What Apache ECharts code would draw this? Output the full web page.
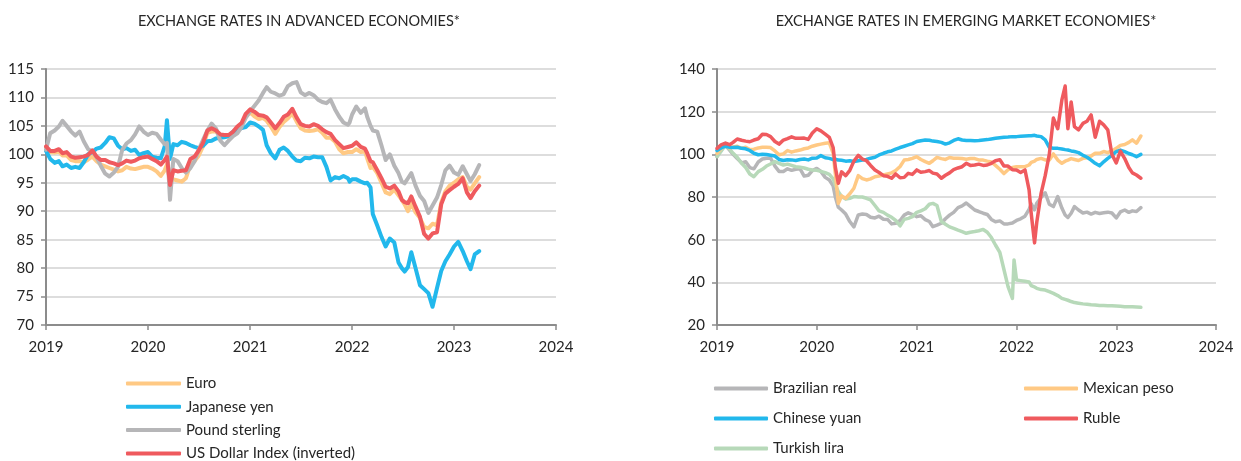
<!DOCTYPE html>
<html><head><meta charset="utf-8">
<script src="https://cdn.jsdelivr.net/npm/echarts@6/dist/echarts.min.js"></script>
<style>html,body{margin:0;padding:0;background:#fff}#c{width:1241px;height:461px}</style>
</head><body><div id="c"></div>
<script>
// Shared observation dates (semi-monthly, with a few extra event dates)
const dates = [
 '2019-01-01','2019-01-16','2019-02-01','2019-02-16','2019-03-01','2019-03-16','2019-04-01','2019-04-16','2019-05-01','2019-05-16','2019-06-01','2019-06-16','2019-07-01','2019-07-16','2019-08-01','2019-08-16','2019-09-01','2019-09-16','2019-10-01','2019-10-16','2019-11-01','2019-11-16','2019-12-01','2019-12-16',
 '2020-01-01','2020-01-16','2020-02-01','2020-02-16','2020-03-01','2020-03-09','2020-03-20','2020-04-01','2020-04-16','2020-05-01','2020-05-16','2020-06-01','2020-06-16','2020-07-01','2020-07-16','2020-08-01','2020-08-16','2020-09-01','2020-09-16','2020-10-01','2020-10-16','2020-11-01','2020-11-16','2020-12-01','2020-12-16',
 '2021-01-01','2021-01-16','2021-02-01','2021-02-16','2021-03-01','2021-03-16','2021-04-01','2021-04-16','2021-05-01','2021-05-16','2021-06-01','2021-06-16','2021-07-01','2021-07-16','2021-08-01','2021-08-16','2021-09-01','2021-09-16','2021-10-01','2021-10-16','2021-11-01','2021-11-16','2021-12-01','2021-12-17','2021-12-23',
 '2022-01-01','2022-01-16','2022-02-01','2022-02-16','2022-02-24','2022-03-08','2022-03-16','2022-04-01','2022-04-16','2022-05-01','2022-05-16','2022-06-01','2022-06-16','2022-06-28','2022-07-08','2022-07-20','2022-08-01','2022-08-16','2022-09-01','2022-09-16','2022-10-01','2022-10-16','2022-11-01','2022-11-16','2022-12-01','2022-12-16',
 '2023-01-01','2023-01-16','2023-02-01','2023-02-16','2023-03-01','2023-03-16','2023-04-01'
];

// ---- Advanced economies ----
const euro = [
 101.2,100.4,100.3,100.5,99.8,99.8,99.0,98.8,98.8,98.6,99.1,99.6,98.8,98.2,97.9,97.6,97.3,97.0,97.2,97.8,97.5,97.4,97.6,97.8,
 97.8,97.5,97.0,96.2,97.2,98.2,95.3,95.6,95.4,95.2,95.8,98.2,98.8,99.8,101.4,103.8,104.0,104.0,103.2,103.2,103.1,103.6,104.4,105.4,106.6,
 107.4,106.7,106.2,106.4,105.9,104.9,103.6,104.8,105.7,106.3,107.2,105.8,104.6,104.2,104.1,104.2,104.4,103.8,102.9,102.9,102.2,100.9,100.2,100.4,100.3,
 100.4,100.9,100.4,100.5,99.3,97.6,97.8,96.7,95.0,93.3,93.0,93.8,92.8,92.0,91.2,90.0,91.4,89.8,88.8,87.2,87.0,87.8,87.5,91.5,93.5,94.5,
 95.0,95.6,96.0,94.3,93.8,94.9,96.0
];
const yen = [
 100.6,99.2,98.5,98.8,97.9,98.2,97.6,97.8,97.6,98.6,100.0,100.4,101.0,101.2,102.0,103.0,102.8,101.5,100.9,101.1,100.6,100.8,99.9,100.2,
 100.4,99.6,99.4,99.3,101.4,106.0,99.2,101.8,101.6,102.2,102.0,101.6,101.3,101.1,101.5,102.3,102.4,102.8,102.9,103.0,103.2,104.0,104.3,104.6,104.8,
 105.6,105.4,104.9,104.3,101.6,100.2,99.3,100.8,101.2,100.6,99.6,98.9,98.8,99.4,99.3,99.6,99.5,99.5,97.8,95.4,96.0,95.8,96.2,95.8,95.2,
 95.6,95.6,95.2,94.9,95.0,94.2,89.5,87.5,85.5,83.8,85.2,84.5,81.0,80.0,79.4,80.2,82.8,80.0,77.0,76.3,75.6,73.2,76.5,79.5,81.2,82.4,
 83.8,84.6,83.0,81.2,79.8,82.4,83.0
];
const pound = [
 100.8,103.7,104.2,104.9,105.9,105.0,104.0,103.3,104.0,102.3,100.9,100.5,99.5,98.0,96.6,96.1,96.8,97.8,100.8,101.9,102.5,103.5,104.9,104.0,
 103.4,103.8,103.6,102.6,101.8,102.0,92.0,99.2,98.8,97.6,96.8,97.6,98.8,100.8,102.5,104.2,105.4,104.5,102.4,101.6,102.4,103.2,103.7,104.8,106.4,
 107.6,108.5,109.5,110.8,111.8,111.0,110.7,110.3,110.6,112.0,112.5,112.7,110.9,110.4,110.8,110.4,109.6,109.2,109.0,109.6,107.9,106.6,105.6,105.2,105.6,
 107.0,108.4,107.3,108.1,106.6,105.0,104.2,104.0,101.6,99.0,100.0,98.0,96.7,95.2,94.9,95.8,96.7,94.5,92.7,91.8,89.7,91.0,92.4,94.6,97.2,98.0,
 96.8,96.4,97.9,96.5,95.3,96.5,98.1
];
const usd = [
 101.4,100.6,100.6,100.9,100.2,100.4,99.6,99.4,99.5,99.6,99.9,100.7,99.6,99.0,99.0,98.6,98.4,98.1,98.4,98.9,98.7,98.9,99.3,99.5,
 99.6,99.2,98.8,98.2,99.0,99.6,94.6,97.2,97.0,97.1,97.2,99.2,99.6,100.7,102.0,104.2,104.6,104.2,103.5,103.4,103.4,104.0,104.9,105.5,107.1,
 107.9,107.5,106.9,106.8,106.5,105.6,104.6,105.5,106.6,107.0,108.0,106.5,105.3,105.0,104.9,105.3,105.0,104.4,103.9,103.6,102.5,101.8,101.1,101.3,101.2,
 101.5,102.1,101.3,101.0,100.2,98.8,98.6,97.2,95.8,94.3,94.0,94.5,93.5,92.0,91.6,91.4,92.6,90.8,89.0,86.0,85.2,86.1,86.3,91.2,93.1,93.7,
 94.3,94.8,95.8,93.3,92.3,93.5,94.5
];

// ---- Emerging market economies ----
const real = [
 99.0,102.0,104.2,102.0,100.0,98.0,96.0,96.5,93.8,93.2,96.4,97.8,98.2,98.2,94.5,92.0,92.0,93.2,92.5,93.0,93.2,89.8,90.2,92.4,
 93.4,92.0,89.2,88.0,85.2,80.0,75.2,73.9,72.0,68.5,66.0,71.6,72.0,71.8,70.5,70.2,71.0,69.6,69.5,67.4,67.7,69.0,71.5,72.6,71.8,
 70.8,71.2,69.4,68.5,66.1,66.8,67.7,69.8,71.5,72.8,75.0,75.8,77.2,75.6,73.9,73.2,72.4,71.8,69.5,68.4,68.8,67.4,67.4,67.8,68.4,
 69.0,69.8,71.0,74.2,76.8,74.0,77.0,79.8,82.0,76.6,75.5,80.2,74.8,71.6,70.4,72.4,75.5,73.9,72.5,72.9,72.0,72.8,72.3,72.6,72.9,72.5,
 70.2,73.0,73.9,72.8,73.5,73.2,75.0
];
const peso = [
 100.5,102.8,104.2,103.0,103.5,103.8,102.8,103.3,102.2,102.4,103.0,103.3,103.3,103.2,101.6,99.8,100.2,101.8,101.0,101.6,102.0,102.6,103.0,103.8,
 104.4,104.8,105.2,105.4,100.5,91.0,77.0,80.5,79.4,81.5,84.1,90.0,88.6,88.0,88.5,89.5,89.8,90.3,90.8,91.3,92.4,94.3,97.3,97.6,98.1,
 98.9,97.6,96.6,95.8,97.0,98.6,98.0,97.6,98.5,98.2,98.2,98.0,97.7,98.0,98.0,97.4,97.3,96.8,96.4,94.8,93.0,91.0,92.8,93.8,94.2,
 94.2,94.2,94.2,95.0,96.2,96.8,97.6,98.1,97.4,97.3,100.2,97.3,95.8,96.8,97.3,98.0,97.6,97.1,98.1,98.4,99.2,100.5,100.5,101.3,100.8,101.6,
 102.8,104.2,104.6,105.6,106.8,105.2,108.6
];
const yuan = [
 101.8,103.0,103.8,103.3,103.2,103.3,102.8,102.6,101.8,100.5,99.8,100.0,99.9,99.6,99.2,97.6,97.1,97.5,97.4,97.1,97.6,97.8,97.4,98.2,
 98.3,99.4,98.4,98.1,97.5,97.8,97.3,97.2,96.8,97.0,96.6,97.0,97.3,97.6,98.2,98.6,99.7,100.5,101.2,101.6,102.4,103.2,103.8,104.4,105.0,
 106.0,106.4,106.7,106.6,106.2,106.0,105.6,104.8,105.4,106.5,107.3,106.7,106.5,106.5,106.4,106.5,106.7,106.9,107.2,107.5,107.8,108.0,108.1,108.3,108.3,
 108.3,108.5,108.6,108.7,108.7,108.9,108.6,108.3,106.8,103.3,102.8,102.8,102.5,102.2,102.0,101.6,101.3,100.8,99.6,98.6,97.3,95.8,94.6,96.5,98.1,99.5,
 101.3,102.0,101.3,100.4,99.8,98.9,100.0
];
const ruble = [
 102.8,104.4,105.3,104.5,105.6,107.2,106.6,106.2,105.9,106.7,107.3,109.4,109.3,108.3,106.0,104.8,106.7,107.4,108.2,107.5,107.5,107.6,107.0,110.0,
 112.0,111.0,109.5,108.0,103.2,94.0,86.4,91.8,90.0,92.5,96.8,99.5,97.8,97.0,94.8,92.7,91.5,90.0,89.7,88.8,90.8,89.0,89.2,91.1,90.6,
 92.7,91.6,91.9,92.4,91.2,90.8,88.8,90.2,91.3,92.8,93.6,94.2,95.8,94.8,95.0,95.4,94.8,95.0,95.8,97.0,97.5,94.5,94.5,92.8,93.4,
 92.7,91.5,92.7,83.3,72.0,58.5,68.0,81.7,90.0,100.0,117.0,112.0,125.5,132.0,112.0,124.5,113.0,111.5,114.5,115.5,118.5,108.0,115.5,113.8,111.5,100.0,
 96.0,101.5,98.0,93.8,91.3,90.3,88.8
];
const lira = [
 98.9,101.5,104.4,102.5,100.5,98.6,95.8,93.8,90.8,89.5,91.9,93.0,94.5,95.5,96.6,95.8,95.0,95.4,94.8,94.2,94.0,93.6,93.0,92.7,
 92.5,92.0,91.4,90.6,88.5,85.6,82.5,80.2,79.0,79.4,80.2,80.0,80.0,79.4,78.6,76.0,73.5,72.8,71.5,70.5,69.0,66.5,69.5,70.0,70.8,
 72.8,73.5,74.5,76.6,77.0,76.0,68.5,67.2,66.0,65.3,64.5,63.8,63.0,63.5,63.8,64.2,64.8,63.5,61.0,57.5,54.0,46.0,38.0,32.5,50.5,
 41.1,40.8,40.5,40.2,38.5,37.8,37.2,36.6,36.4,35.6,34.8,33.8,32.5,32.0,31.6,31.0,30.5,30.2,29.9,29.7,29.5,29.4,29.1,29.1,29.0,29.0,
 28.9,28.8,28.6,28.6,28.5,28.4,28.3
];

const yearTicks = ['2019','2020','2021','2022','2023','2024'];
const titles = ['EXCHANGE RATES IN ADVANCED ECONOMIES*', 'EXCHANGE RATES IN EMERGING MARKET ECONOMIES*'];

const C = {orange:'#FFC984', blue:'#22B8EC', gray:'#B6B6B8', red:'#EF5A5E', green:'#B7D9B9'};
const FONT = 'Lato';
const TXT = '#262626';
const pair = arr => dates.map((d,i) => [d, arr[i]]);

const xAxisFor = gi => ({
  type:'time', gridIndex:gi, min:yearTicks[0]+'-01-01', max:yearTicks[yearTicks.length-1]+'-01-01',
  splitNumber:5, minInterval:365*864e5, maxInterval:366*864e5,
  axisLine:{show:true, lineStyle:{color:'#8c8c8c', width:2}},
  axisTick:{show:true, length:5, lineStyle:{color:'#8c8c8c', width:1.5}},
  axisLabel:{color:TXT, fontSize:15, fontFamily:FONT, margin:15, showMinLabel:true, showMaxLabel:true, hideOverlap:false,
    formatter: v => String(new Date(v).getFullYear())},
  splitLine:{show:false}
});
const yAxisFor = (gi, min, max, interval) => ({
  type:'value', gridIndex:gi, min, max, interval,
  axisLine:{show:true, lineStyle:{color:'#8c8c8c', width:2}},
  axisTick:{show:true, length:5, lineStyle:{color:'#8c8c8c', width:1.5}},
  axisLabel:{color:TXT, fontSize:15, fontFamily:FONT, margin:12},
  splitLine:{show:true, lineStyle:{color:'#d2d2d2', width:1.5}}
});
const line = (name, arr, color, gi, w) => ({
  name, type:'line', xAxisIndex:gi, yAxisIndex:gi, data:pair(arr), showSymbol:false, symbol:'none',
  smooth:false, lineStyle:{color, width:w, cap:'round', join:'round'}, itemStyle:{color}, animation:false
});
const legendBase = {orient:'vertical', icon:'roundRect', itemHeight:4, selectedMode:false, padding:0, height:120,
  textStyle:{fontSize:15, color:TXT, fontFamily:FONT, lineHeight:17}};

const option = {
  animation:false,
  backgroundColor:'#fff',
  graphic:[
    {type:'text', x:299, y:21, style:{text:titles[0], align:'center', verticalAlign:'middle', font:'14.5px Lato', fill:TXT}},
    {type:'text', x:966, y:21, style:{text:titles[1], align:'center', verticalAlign:'middle', font:'14.5px Lato', fill:TXT}}
  ],
  grid:[
    {left:46, right:1241-556, top:69, bottom:461-325, containLabel:false},
    {left:717, right:1241-1216, top:69, bottom:461-325, containLabel:false}
  ],
  xAxis:[xAxisFor(0), xAxisFor(1)],
  yAxis:[yAxisFor(0,70,115,5), yAxisFor(1,20,140,20)],
  legend:[
    Object.assign({}, legendBase, {data:['Euro','Japanese yen','Pound sterling','US Dollar Index (inverted)'], left:126, top:375, itemWidth:55, itemGap:6.3}),
    Object.assign({}, legendBase, {data:['Brazilian real','Chinese yuan','Turkish lira'], left:714, top:380, itemWidth:54, itemGap:13}),
    Object.assign({}, legendBase, {data:['Mexican peso','Ruble'], left:1024, top:380, itemWidth:54, itemGap:13})
  ],
  series:[
    line('Euro', euro, C.orange, 0, 4),
    line('Japanese yen', yen, C.blue, 0, 4),
    line('Pound sterling', pound, C.gray, 0, 4),
    line('US Dollar Index (inverted)', usd, C.red, 0, 4),
    line('Brazilian real', real, C.gray, 1, 3.5),
    line('Turkish lira', lira, C.green, 1, 3.5),
    line('Mexican peso', peso, C.orange, 1, 3.5),
    line('Chinese yuan', yuan, C.blue, 1, 3.5),
    line('Ruble', ruble, C.red, 1, 3.5)
  ]
};
const chart = echarts.init(document.getElementById('c'), null, {renderer:'canvas'});
chart.setOption(option);
</script>
</body></html>
